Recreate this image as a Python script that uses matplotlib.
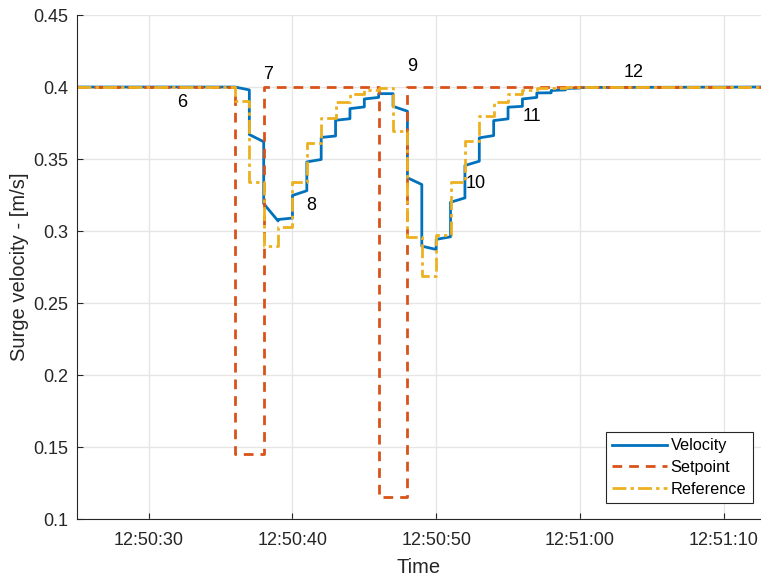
import datetime as dt
import matplotlib
matplotlib.use('Agg')
import matplotlib.pyplot as plt
import matplotlib.dates as mdates
from matplotlib.ticker import FuncFormatter, MultipleLocator

plt.rcParams['font.family'] = ['Liberation Sans', 'DejaVu Sans']

# seconds after 12:50:00
t_start = 25.0
t_end = 72.6

# sample instants of the controller (1 s)
step_t = [36, 37, 38, 39, 40, 41, 42, 43, 44, 45, 46, 47, 48,
          49, 50, 51, 52, 53, 54, 55, 56, 57, 58, 59, 60]

# velocity: value right after each step and value right before the next one
vel_start = [0.400, 0.367, 0.319, 0.308, 0.3247, 0.348, 0.365, 0.3769, 0.385,
             0.3917, 0.3954, 0.3866, 0.337, 0.2895, 0.2942, 0.320, 0.3455,
             0.3647, 0.3767, 0.386, 0.3917, 0.3959, 0.3976, 0.399, 0.3996]
vel_end = [0.398, 0.362, 0.307, 0.309, 0.328, 0.3497, 0.366, 0.378, 0.3862,
           0.3928, 0.3954, 0.3832, 0.3323, 0.2872, 0.296, 0.323, 0.3485,
           0.3663, 0.3779, 0.3866, 0.3928, 0.396, 0.398, 0.3993, 0.3997]

# reference held over each interval
ref_vals = [0.3905, 0.334, 0.2895, 0.3025, 0.3343, 0.3614, 0.3788, 0.3894,
            0.3952, 0.3977, 0.399, 0.3694, 0.2958, 0.2687, 0.2972, 0.3342,
            0.3628, 0.3797, 0.3894, 0.3952, 0.3977, 0.399, 0.3996, 0.4, 0.4]

sp_t = [25, 36, 38, 46, 48, 72.6]
sp_vals = [0.4, 0.145, 0.4, 0.115, 0.4, 0.4]

labels = ['6', '7', '8', '9', '10', '11', '12']
label_t = [32.34, 38.33, 41.32, 48.34, 52.73, 56.69, 63.72]
label_v = [0.3896, 0.409, 0.3174, 0.4146, 0.3333, 0.3792, 0.4104]

base = dt.datetime(2020, 1, 1, 12, 50, 0)
def tt(s):
    return [base + dt.timedelta(seconds=x) for x in s]

# build velocity path
vx = [t_start]
vy = [0.4]
for i, t in enumerate(step_t):
    t2 = step_t[i + 1] if i + 1 < len(step_t) else t + 1
    vx += [t, t2]
    vy += [vel_start[i], vel_end[i]]
vx.append(t_end)
vy.append(0.4)

rx = [t_start] + step_t + [t_end]
ry = [0.4] + ref_vals + [0.4]

fig = plt.figure(figsize=(7.61, 5.78), dpi=100)
ax = fig.add_axes([0.101, 0.102, 0.899, 0.872])

ax.plot(tt(vx), vy, color='#0072BD', lw=2.0, label='Velocity')
ax.plot(tt(sp_t), sp_vals, color='#D95319', lw=2.0, ls=(0, (3.5, 2.5)),
        drawstyle='steps-post', label='Setpoint')
ax.plot(tt(rx), ry, color='#EDB120', lw=2.0, ls=(0, (5, 1.5, 1.2, 1.5)),
        drawstyle='steps-post', label='Reference')

for s, t, v in zip(labels, label_t, label_v):
    ax.text(base + dt.timedelta(seconds=t), v, s, fontsize=13,
            ha='center', va='center')

ax.set_xlim(base + dt.timedelta(seconds=t_start), base + dt.timedelta(seconds=t_end))
ax.set_ylim(0.1, 0.45)
ax.yaxis.set_major_locator(MultipleLocator(0.05))
ax.yaxis.set_major_formatter(FuncFormatter(lambda v, p: '%g' % round(v, 3)))
ax.xaxis.set_major_locator(mdates.SecondLocator(bysecond=[0, 10, 20, 30, 40, 50]))
ax.xaxis.set_major_formatter(mdates.DateFormatter('%H:%M:%S'))

ax.grid(True, color='#e6e6e6', lw=1.0)
ax.set_axisbelow(True)
for side in ['top', 'right']:
    ax.spines[side].set_visible(False)
for side in ['left', 'bottom']:
    ax.spines[side].set_color('#262626')
ax.tick_params(direction='in', length=4, labelsize=13, colors='#262626')
ax.tick_params(axis='x', pad=9)
ax.tick_params(axis='y', pad=6)

ax.set_xlabel('Time', fontsize=14.5, color='#262626', labelpad=7)
ax.set_ylabel('Surge velocity - [m/s]', fontsize=14.5, color='#262626', labelpad=3)

leg = ax.legend(loc='lower right', bbox_to_anchor=(0.988, 0.031), fontsize=11.7,
                fancybox=False, framealpha=1, edgecolor='#262626',
                handlelength=3.4, borderpad=0.4, labelspacing=0.42,
                handletextpad=0.2, borderaxespad=0)
leg.get_frame().set_linewidth(0.8)

fig.savefig('out.png', dpi=100)
